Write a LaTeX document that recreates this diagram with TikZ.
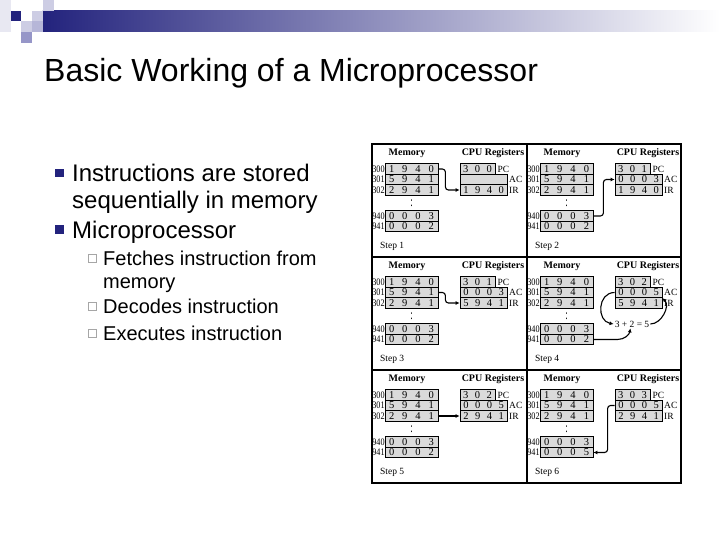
\documentclass[tikz,border=0pt]{standalone}
\usepackage{fontspec}
\setmainfont{Liberation Serif}
\newfontfamily\slidefont{Liberation Sans}
\usepackage{tikz}
\usetikzlibrary{arrows.meta}

\definecolor{navy}{RGB}{35,35,125}
\definecolor{lavlight}{RGB}{205,205,228}
\definecolor{lavmid}{RGB}{150,150,200}
\definecolor{lavpale}{RGB}{232,232,242}
\definecolor{cellgray}{RGB}{218,218,218}

% digits spread over equal slots
\newcommand{\dgts}[2]{\foreach \dg in {#2}{\makebox[#1]{\dg}}}
% narrow address labels
\newcommand{\narrow}[1]{\scalebox{0.82}[1]{#1}}

% one step of the fetch/execute example
\newcommand{\steppanel}[8]{%
\begin{scope}[shift={(#2,#3)}]
\node[head] (#1-mh) at (35,9.5) {Memory};
\node[head] (#1-rh) at (121,9.5) {CPU Registers};
\node[adr] (#1-a300) at (12.8,25) {\narrow{300}};
\node[adr] (#1-a301) at (12.8,35.5) {\narrow{301}};
\node[adr] (#1-a302) at (12.8,46) {\narrow{302}};
\node[adr] (#1-a940) at (12.8,72) {\narrow{940}};
\node[adr] (#1-a941) at (12.8,82.5) {\narrow{941}};
\node[mem] (#1-m300) at (39.5,25) {\dgts{13.25pt}{1,9,4,0}};
\node[mem] (#1-m301) at (39.5,35.5) {\dgts{13.25pt}{5,9,4,1}};
\node[mem] (#1-m302) at (39.5,46) {\dgts{13.25pt}{2,9,4,1}};
\node[gapdots] (#1-gap) at (39.5,59) {\scalebox{1}[1.6]{:}};
\node[mem] (#1-m940) at (39.5,72) {\dgts{13.25pt}{0,0,0,3}};
\node[mem] (#1-m941) at (39.5,82.5) {\dgts{13.25pt}{#7}};
\node[reg, minimum width=35.25pt] (#1-pc) at (105.6,25) {\dgts{11.75pt}{#4}};
\node[reg] (#1-ac) at (111.5,35.5) {\dgts{11.75pt}{#5}};
\node[reg] (#1-ir) at (111.5,46) {\dgts{11.75pt}{#6}};
\node[lbl] (#1-lpc) at (125.5,25) {PC};
\node[lbl] (#1-lac) at (137,35.5) {AC};
\node[lbl] (#1-lir) at (137,46) {IR};
\node[lbl] (#1-step) at (8,102) {Step #8};
\end{scope}}

\begin{document}
\begin{tikzpicture}[
x=1pt, y=-1pt,
titletxt/.style={anchor=base west, inner sep=0pt, font=\slidefont\fontsize{32}{36}\selectfont},
item/.style={anchor=base west, inner sep=0pt, font=\slidefont\fontsize{24}{28}\selectfont},
subitem/.style={anchor=base west, inner sep=0pt, font=\slidefont\fontsize{20}{24}\selectfont},
head/.style={inner sep=0pt, font=\bfseries\fontsize{10}{11}\selectfont},
adr/.style={anchor=east, inner sep=0pt, font=\fontsize{10}{11}\selectfont},
mem/.style={draw, fill=cellgray, line width=0.8pt, minimum width=53pt, minimum height=10.5pt, inner sep=0pt, font=\fontsize{10.5}{11}\selectfont},
reg/.style={mem, minimum width=47pt},
lbl/.style={anchor=west, inner sep=0pt, font=\fontsize{9.5}{10}\selectfont},
gapdots/.style={inner sep=0pt, font=\fontsize{9}{9}\selectfont},
frame/.style={line width=1.4pt},
flow/.style={-{Latex[length=4pt,width=4pt]}, line width=1.1pt}
]
\useasboundingbox (0,0) rectangle (720,540);

% slide decoration
\fill[lavpale] (0,0) rectangle (10.7,32);
\shade[left color=navy, right color=white] (42.8,10.7) rectangle (720,32);
\fill[navy] (10.7,10.7) rectangle (21.4,21.4);
\fill[lavlight] (32.1,10.7) rectangle (42.8,21.4);
\fill[lavlight] (42.8,0) rectangle (53.5,10.7);
\fill[lavlight] (21.4,21.4) rectangle (32.1,32.1);
\fill[lavmid!70!white] (32.1,21.4) rectangle (42.8,32.1);
\fill[lavmid] (21.4,32.1) rectangle (32.1,42.8);

% title and bullets
\node[titletxt] (title) at (44,82) {Basic Working of a Microprocessor};
\fill[navy] (55,169) rectangle (63.5,177.5);
\node[item] (i1a) at (72,182) {Instructions are stored};
\node[item] (i1b) at (72,209) {sequentially in memory};
\fill[navy] (55,225) rectangle (63.5,233.5);
\node[item] (i2) at (72,238) {Microprocessor};
\draw[gray!70, line width=0.7pt] (88,254) rectangle (96.5,262.5);
\node[subitem] (s1a) at (103,265) {Fetches instruction from};
\node[subitem] (s1b) at (103,288) {memory};
\draw[gray!70, line width=0.7pt] (88,302) rectangle (96.5,310.5);
\node[subitem] (s2) at (103,313) {Decodes instruction};
\draw[gray!70, line width=0.7pt] (88,329) rectangle (96.5,337.5);
\node[subitem] (s3) at (103,340) {Executes instruction};

% the six steps
\draw[frame] (372,144) rectangle (681,483);
\draw[frame] (527,144) -- (527,483);
\draw[frame] (372,257) -- (681,257);
\draw[frame] (372,370) -- (681,370);

\steppanel{1}{372}{144}{3,0,0}{}{1,9,4,0}{0,0,0,2}{1}
\steppanel{2}{527}{144}{3,0,1}{0,0,0,3}{1,9,4,0}{0,0,0,2}{2}
\steppanel{3}{372}{257}{3,0,1}{0,0,0,3}{5,9,4,1}{0,0,0,2}{3}
\steppanel{4}{527}{257}{3,0,2}{0,0,0,5}{5,9,4,1}{0,0,0,2}{4}
\steppanel{5}{372}{370}{3,0,2}{0,0,0,5}{2,9,4,1}{0,0,0,2}{5}
\steppanel{6}{527}{370}{3,0,3}{0,0,0,5}{2,9,4,1}{0,0,0,5}{6}
\node[lbl, anchor=center, inner sep=1pt] (4-sum) at (632,324) {3 + 2 = 5};

\draw[flow, rounded corners=3pt] (1-m300.east) -- ++(7,0) |- (1-ir.west);
\draw[flow, rounded corners=3pt] (2-m940.east) -- ++(10,0) |- (2-ac.west);
\draw[flow, rounded corners=3pt] (3-m301.east) -- ++(7,0) |- (3-ir.west);
\draw[flow] (4-ac.west) to[out=180, in=170, looseness=1.4] (4-sum.west);
\draw[flow] (4-m941.east) -- ++(24,0) to[out=0, in=-100] (4-sum.250);
\draw[flow] (4-sum.east) to[out=0, in=-45] (4-ac.south east);
\draw[flow] (5-m302.east) -- (5-ir.west);
\draw[flow, rounded corners=3pt] (6-ac.west) -- ++(-7,0) |- (6-m941.east);
\end{tikzpicture}
\end{document}
